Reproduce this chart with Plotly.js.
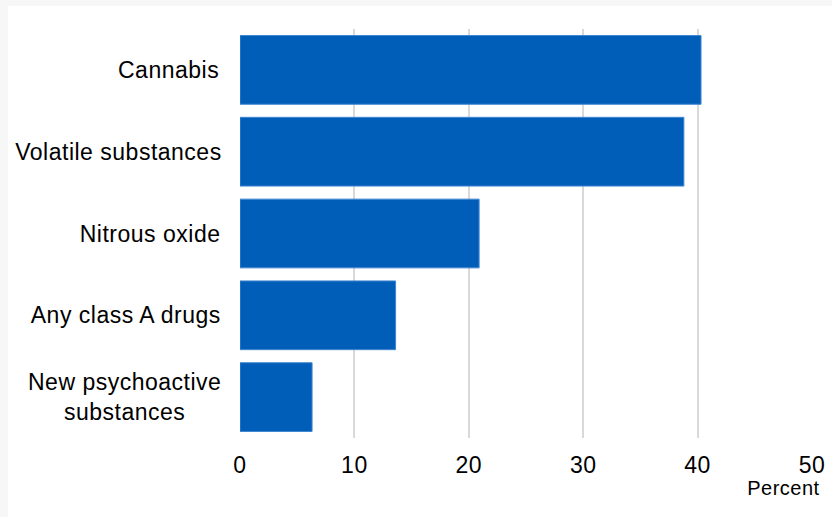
<!DOCTYPE html>
<html>
<head>
<meta charset="utf-8">
<script src="https://cdn.plot.ly/plotly-3.0.1.min.js"></script>
<style>
  html, body { margin: 0; padding: 0; background: #f7f7f7; }
  #chart { position: absolute; left: 8px; top: 6px; width: 824px; height: 511px; background: #fff; }
  #chart text { letter-spacing: 0.5px; }
</style>
</head>
<body>
<div id="chart"></div>
<script>
const categories = ["Cannabis", "Volatile substances", "Nitrous oxide", "Any class A drugs", "New psychoactive<br>substances"];
const values = [40.3, 38.8, 20.9, 13.6, 6.3];
const xTicks = [0, 10, 20, 30, 40, 50];
const xAxisLabel = "Percent";

const FONT = "Liberation Sans, Arial, sans-serif";

const trace = {
  type: "bar",
  orientation: "h",
  y: categories,
  x: values,
  marker: { color: "#005EB8", line: { color: "#3f86d0", width: 1 } },
  hoverinfo: "x+y"
};

const annotations = categories.map(c => ({
  text: c,
  xref: "paper", yref: "y",
  x: 0, y: c,
  xanchor: "right", yanchor: "middle",
  xshift: -21,
  align: "center",
  showarrow: false,
  font: { family: FONT, size: 23, color: "#000" }
}));
annotations.push({
  text: xAxisLabel,
  xref: "paper", yref: "paper",
  x: 1, y: 0,
  xanchor: "right", yanchor: "top",
  xshift: 8, yshift: -37,
  showarrow: false,
  font: { family: FONT, size: 20, color: "#000" }
});

const layout = {
  width: 824, height: 511,
  margin: { l: 232, r: 20, t: 23, b: 79 },
  paper_bgcolor: "#ffffff",
  plot_bgcolor: "#ffffff",
  bargap: 0.16,
  showlegend: false,
  font: { family: FONT, size: 23, color: "#000" },
  xaxis: {
    range: [0, 50],
    tickvals: xTicks,
    ticktext: xTicks.map(String),
    showgrid: true,
    gridcolor: "#d9d9d9",
    gridwidth: 2,
    zeroline: false,
    showline: false,
    ticks: "outside",
    ticklen: 6,
    tickcolor: "rgba(0,0,0,0)",
    tickfont: { family: FONT, size: 23, color: "#000" }
  },
  yaxis: {
    type: "category",
    autorange: "reversed",
    showticklabels: false,
    showgrid: false,
    zeroline: false,
    showline: false
  },
  annotations: annotations
};

Plotly.newPlot("chart", [trace], layout, { displayModeBar: false, staticPlot: true });
</script>
</body>
</html>
